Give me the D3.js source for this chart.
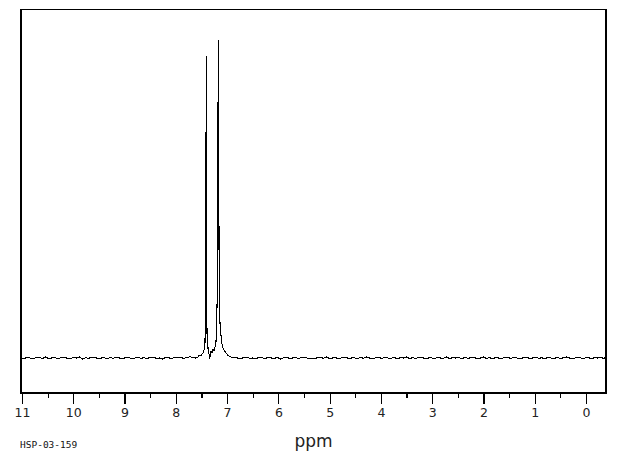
<!DOCTYPE html>
<html>
<head>
<meta charset="utf-8">
<script src="https://cdn.jsdelivr.net/npm/d3@7/dist/d3.min.js"></script>
<style>
  html, body { margin: 0; padding: 0; background: #fff; }
  svg { display: block; }
</style>
</head>
<body>
<svg id="chart" width="620" height="455"></svg>
<script>
// ---- data (chemical shift in ppm, relative intensity %) ----
const tickValues = [11, 10, 9, 8, 7, 6, 5, 4, 3, 2, 1, 0];
const minorTickValues = [10.5, 9.5, 8.5, 7.5, 6.5, 5.5, 4.5, 3.5, 2.5, 1.5, 0.5];
const xLabel = "ppm";
const sampleId = "HSP-03-159";

// aromatic multiplet region
const peakPpm = [7.606, 7.567, 7.547, 7.528, 7.508, 7.489, 7.469, 7.450, 7.430, 7.417, 7.405, 7.403, 7.392,
  7.372, 7.352, 7.340, 7.330, 7.313, 7.294, 7.274, 7.255, 7.235, 7.216, 7.200, 7.191, 7.171, 7.167,
  7.152, 7.142, 7.129, 7.119, 7.100, 7.080, 7.060, 7.041, 7.021, 7.002, 6.982, 6.943, 6.904];
const peakIntensity = [0.0, 0.3, 1.0, 0.6, 0.8, 1.3, 1.6, 2.5, 5.0, 37, 95, 37, 8.0,
  3.0, 1.2, -0.3, 1.0, 2.2, 1.6, 2.8, 2.2, 3.5, 5.0, 14, 20, 100, 72,
  18, 12, 9.0, 7.0, 4.5, 3.2, 2.5, 2.0, 1.6, 1.2, 0.8, 0.4, 0.2];

// baseline noise, sampled every 0.06 ppm
const leftNoiseStart = 11.02;
const leftNoise = [0.1,-0.2,0.3,0,-0.3,0.2,0.1,-0.1,0.3,-0.2,
  0,0.2,-0.3,0.1,0.3,-0.1,-0.2,0.2,0,0.3,
  -0.3,0.1,-0.1,0.2,0.3,-0.2,0,0.1,-0.3,0.2,
  -0.1,0.3,0,-0.2,0.1,0.2,-0.3,0,0.3,-0.1,
  0.1,-0.2,0.2,0.3,-0.1,0,-0.3,0.2,0.1,-0.2,
  0.3,0,0.1,-0.1,0.2,0.4,0.1];
const rightNoiseStart = 6.86;
const rightNoise = [0.2,0,-0.2,0.1,0.3,-0.1,0,-0.3,0.2,0.1,
  -0.2,0.3,0,-0.1,0.2,-0.3,0.1,0.3,-0.2,0,
  0.1,-0.2,0.3,0.2,-0.1,0,-0.3,0.1,0.2,-0.1,
  0.3,-0.2,0,0.1,-0.3,0.2,0.3,-0.1,0,0.1,
  -0.2,0.2,-0.1,0.3,0,-0.3,0.1,0.2,-0.2,0.3,
  0,-0.1,0.2,-0.3,0.1,0,0.3,-0.2,0.1,-0.1,
  0.2,0.3,-0.3,0,0.1,-0.2,0.2,0,-0.1,0.3,
  -0.2,0.1,0,0.2,-0.3,0.3,-0.1,0.1,0.2,-0.2,
  0,0.3,-0.1,0.1,-0.3,0.2,0,-0.2,0.3,0.1,
  -0.1,0.2,0,-0.3,0.1,0.3,-0.2,0,0.2,-0.1,
  0.1,-0.3,0.3,0,-0.1,0.2,-0.2,0.1,0.3,0,
  -0.2,0.1,0.2,-0.1,0,0.3,-0.3,0.1,0,0.2,
  -0.1,0.2];
const noiseStep = 0.06;

// ---- layout ----
const frame = { left: 21, right: 606, top: 9.5, bottom: 393 };

const x = d3.scaleLinear().domain([11, 0]).range([22, 586]);
const y = d3.scaleLinear().domain([-11, 109.75]).range([393, 9]);

const points = [];
leftNoise.forEach((v, i) => points.push([leftNoiseStart - i * noiseStep, v]));
peakPpm.forEach((p, i) => points.push([p, peakIntensity[i]]));
rightNoise.forEach((v, i) => points.push([rightNoiseStart - i * noiseStep, v]));

const svg = d3.select("#chart");

svg.append("defs").append("clipPath").attr("id", "clip")
  .append("rect")
  .attr("x", frame.left).attr("y", frame.top)
  .attr("width", frame.right - frame.left).attr("height", frame.bottom - frame.top);

svg.append("path")
  .datum(points)
  .attr("clip-path", "url(#clip)")
  .attr("fill", "none")
  .attr("stroke", "#000")
  .attr("stroke-width", 1.1)
  .attr("shape-rendering", "crispEdges")
  .attr("stroke-linejoin", "miter")
  .attr("d", d3.line().x(d => x(d[0])).y(d => y(d[1])));

// frame
svg.append("rect")
  .attr("x", frame.left).attr("y", frame.top)
  .attr("width", frame.right - frame.left).attr("height", frame.bottom - frame.top)
  .attr("fill", "none").attr("stroke", "#000").attr("stroke-width", 1.3)
  .attr("shape-rendering", "crispEdges");

// axis
const axisG = svg.append("g").attr("transform", `translate(0,${frame.bottom})`);
const axis = d3.axisBottom(x).tickValues(tickValues).tickSize(11).tickPadding(4)
  .tickFormat(d3.format("d"));
axisG.call(axis);
axisG.select(".domain").remove();
axisG.selectAll(".tick line").attr("stroke", "#000").attr("stroke-width", 1.2)
  .attr("shape-rendering", "crispEdges");
axisG.selectAll(".tick text")
  .attr("fill", "#222")
  .style("font-family", "'DejaVu Sans', sans-serif")
  .style("font-size", "12.5px");

const minorG = svg.append("g").attr("transform", `translate(0,${frame.bottom})`);
minorG.call(d3.axisBottom(x).tickValues(minorTickValues).tickSize(5).tickFormat(""));
minorG.select(".domain").remove();
minorG.selectAll(".tick line").attr("stroke", "#000").attr("stroke-width", 1.2)
  .attr("shape-rendering", "crispEdges");

svg.append("text")
  .attr("x", 313.5).attr("y", 446.5)
  .attr("text-anchor", "middle")
  .style("font-family", "'DejaVu Sans', sans-serif")
  .style("font-size", "17px")
  .attr("fill", "#222")
  .text(xLabel);

svg.append("text")
  .attr("x", 20).attr("y", 447.5)
  .style("font-family", "'DejaVu Sans Mono', monospace")
  .style("font-size", "9.5px")
  .attr("fill", "#111")
  .text(sampleId);
</script>
</body>
</html>
